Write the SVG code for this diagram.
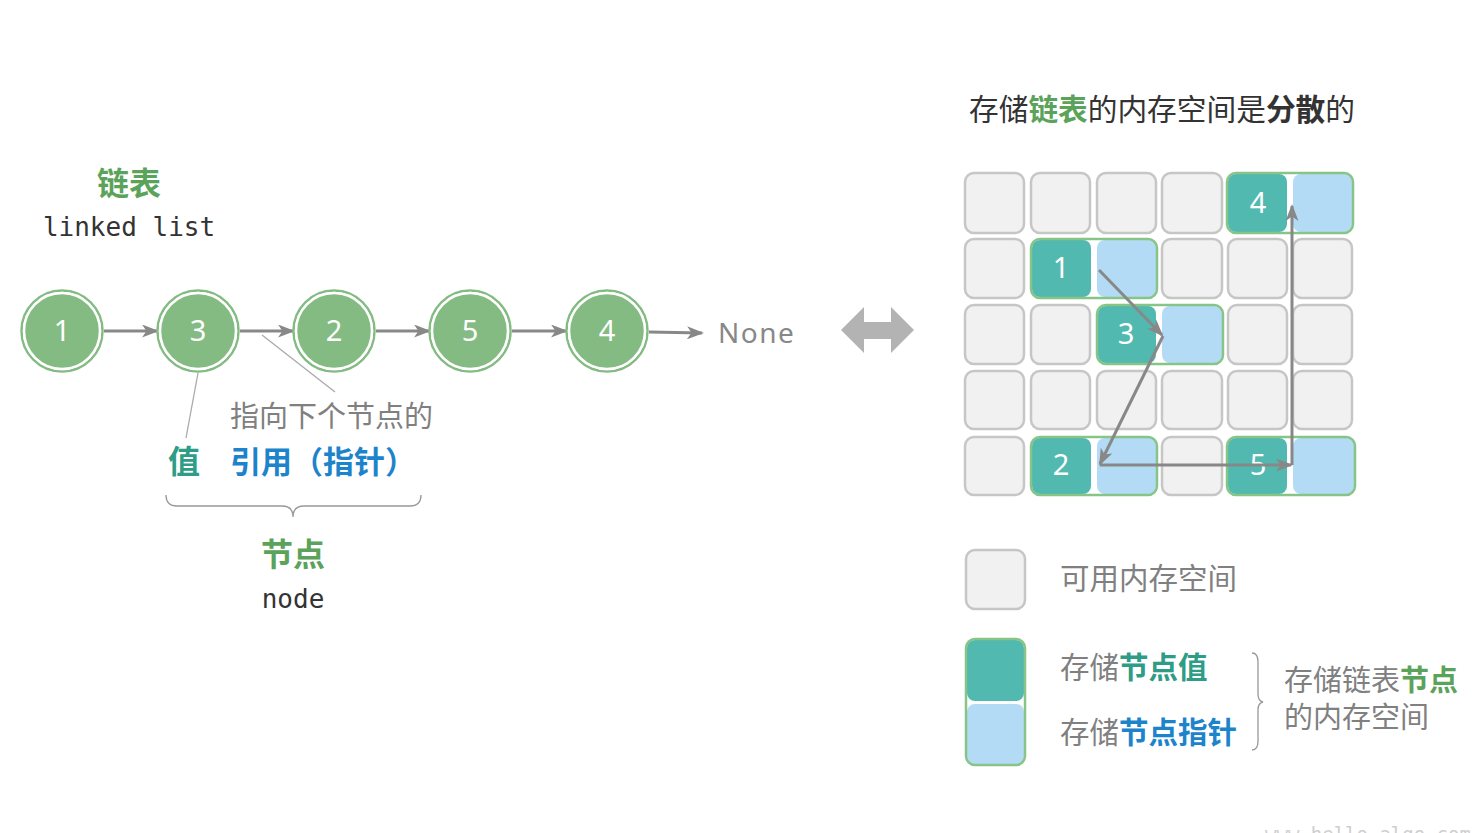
<svg xmlns="http://www.w3.org/2000/svg" width="1480" height="833" viewBox="0 0 1480 833">
<style>
.cjk{font-family:"Noto Sans CJK SC","Noto Sans",sans-serif}
.mono{font-family:"DejaVu Sans Mono","Liberation Mono",monospace}
.num{font-family:"Noto Sans","DejaVu Sans",sans-serif;fill:#fff;font-size:29px;text-anchor:middle}
.cell{fill:#f1f1f1;stroke:#c6c6c6;stroke-width:2.5}
.teal{fill:#52b9b0}
.blue{fill:#b4dbf6}
.nodeb{fill:none;stroke:#86c487;stroke-width:2.5}
.circ{fill:#83bb82;stroke:#fff;stroke-width:2.5}
.ring{fill:none;stroke:#83bb82;stroke-width:2.5}
.conn{stroke:#888;stroke-width:3;fill:none;marker-end:url(#ah)}
.thin{stroke:#aaa;stroke-width:1.3;fill:none}
.gray{fill:#808080}
.green{fill:#5ba35a;font-weight:bold}
.tealtxt{fill:#2e9c86;font-weight:bold}
.bluetxt{fill:#1d84cb;font-weight:bold}
</style>
<defs>
<marker id="ah" markerWidth="17" markerHeight="13" refX="15" refY="6.5" orient="auto" markerUnits="userSpaceOnUse" viewBox="0 0 17 13">
<path d="M0,0 L17,6.5 L0,13 L4.5,6.5 z" fill="#888"/>
</marker>
</defs>
<rect width="1480" height="833" fill="#fff"/>

<g id="title-left">
<text x="129" y="195" class="cjk green" font-size="32" text-anchor="middle">链表</text>
<text x="129" y="236" class="mono" font-size="26" fill="#333" text-anchor="middle">linked list</text>
</g>

<g id="connectors">
<line x1="104" y1="331" x2="157" y2="331" class="conn"/>
<line x1="240" y1="331" x2="293" y2="331" class="conn"/>
<line x1="376" y1="331" x2="429" y2="331" class="conn"/>
<line x1="512" y1="331" x2="566" y2="331" class="conn"/>
<line x1="649" y1="332" x2="702" y2="333" class="conn"/>
<line x1="198" y1="373" x2="186" y2="438" class="thin"/>
<line x1="262" y1="335" x2="335" y2="392" class="thin"/>
</g>

<g id="n1"><circle cx="62" cy="331" r="40.5" class="ring"/><circle cx="62" cy="331" r="38" class="circ"/><text x="62" y="341" class="num">1</text></g>
<g id="n3"><circle cx="198" cy="331" r="40.5" class="ring"/><circle cx="198" cy="331" r="38" class="circ"/><text x="198" y="341" class="num">3</text></g>
<g id="n2"><circle cx="334" cy="331" r="40.5" class="ring"/><circle cx="334" cy="331" r="38" class="circ"/><text x="334" y="341" class="num">2</text></g>
<g id="n5"><circle cx="470" cy="331" r="40.5" class="ring"/><circle cx="470" cy="331" r="38" class="circ"/><text x="470" y="341" class="num">5</text></g>
<g id="n4"><circle cx="607" cy="331" r="40.5" class="ring"/><circle cx="607" cy="331" r="38" class="circ"/><text x="607" y="341" class="num">4</text></g>
<g id="none"><text x="718" y="343" font-family="Noto Sans,DejaVu Sans,sans-serif" font-size="28" fill="#888" letter-spacing="1.5">None</text></g>

<g id="annotation">
<text x="230" y="427" class="cjk gray" font-size="29" fill="#808080">指向下个节点的</text>
<text x="168" y="473" class="cjk tealtxt" font-size="32">值</text>
<text x="230" y="473" class="cjk bluetxt" font-size="31">引用（指针）</text>
<path d="M166,495 Q166,506 177,506 L282,506 Q293,506 293,517 Q293,506 304,506 L410,506 Q421,506 421,495" stroke="#999" stroke-width="1.3" fill="none"/>
<text x="293" y="566" class="cjk green" font-size="32" text-anchor="middle">节点</text>
<text x="293" y="608" class="mono" font-size="26" fill="#333" text-anchor="middle">node</text>
</g>

<g id="double-arrow"><path d="M841,330 L864,307 L864,322 L891,322 L891,307 L914,330 L891,353 L891,339 L864,339 L864,353 z" fill="#b3b3b3"/></g>

<g id="title-right"><text x="969" y="120" class="cjk" font-size="29.7" fill="#333">存储<tspan class="green" fill="#5ba35a">链表</tspan>的内存空间是<tspan font-weight="bold">分散</tspan>的</text></g>

<g id="grid">
<rect x="965" y="173" width="59" height="60" rx="9" class="cell"/>
<rect x="1031" y="173" width="59" height="60" rx="9" class="cell"/>
<rect x="1097" y="173" width="59" height="60" rx="9" class="cell"/>
<rect x="1162" y="173" width="60" height="60" rx="9" class="cell"/>
<rect x="965" y="239" width="59" height="59" rx="9" class="cell"/>
<rect x="1162" y="239" width="60" height="59" rx="9" class="cell"/>
<rect x="1228" y="239" width="59" height="59" rx="9" class="cell"/>
<rect x="1293" y="239" width="59" height="59" rx="9" class="cell"/>
<rect x="965" y="305" width="59" height="59" rx="9" class="cell"/>
<rect x="1031" y="305" width="59" height="59" rx="9" class="cell"/>
<rect x="1228" y="305" width="59" height="59" rx="9" class="cell"/>
<rect x="1293" y="305" width="59" height="59" rx="9" class="cell"/>
<rect x="965" y="371" width="59" height="58" rx="9" class="cell"/>
<rect x="1031" y="371" width="59" height="58" rx="9" class="cell"/>
<rect x="1097" y="371" width="59" height="58" rx="9" class="cell"/>
<rect x="1162" y="371" width="60" height="58" rx="9" class="cell"/>
<rect x="1228" y="371" width="59" height="58" rx="9" class="cell"/>
<rect x="1293" y="371" width="59" height="58" rx="9" class="cell"/>
<rect x="965" y="437" width="59" height="58" rx="9" class="cell"/>
<rect x="1162" y="437" width="60" height="58" rx="9" class="cell"/>
</g>

<g id="m4"><rect x="1228" y="174" width="59" height="58" rx="8" class="teal"/><rect x="1293" y="174" width="59" height="58" rx="8" class="blue"/><rect x="1227" y="173" width="126" height="60" rx="9" class="nodeb"/><text x="1258" y="213" class="num">4</text></g>
<g id="m1"><rect x="1032" y="240" width="59" height="57" rx="8" class="teal"/><rect x="1097" y="240" width="59" height="57" rx="8" class="blue"/><rect x="1031" y="239" width="126" height="59" rx="9" class="nodeb"/><text x="1061" y="278" class="num">1</text></g>
<g id="m3"><rect x="1098" y="306" width="58" height="57" rx="8" class="teal"/><rect x="1162" y="306" width="60" height="57" rx="8" class="blue"/><rect x="1097" y="305" width="126" height="59" rx="9" class="nodeb"/><text x="1126" y="344" class="num">3</text></g>
<g id="m2"><rect x="1032" y="438" width="59" height="56" rx="8" class="teal"/><rect x="1097" y="438" width="59" height="56" rx="8" class="blue"/><rect x="1031" y="437" width="126" height="58" rx="9" class="nodeb"/><text x="1061" y="475" class="num">2</text></g>
<g id="m5"><rect x="1228" y="438" width="59" height="56" rx="8" class="teal"/><rect x="1293" y="438" width="61" height="56" rx="8" class="blue"/><rect x="1227" y="437" width="128" height="58" rx="9" class="nodeb"/><text x="1258" y="475" class="num">5</text></g>

<g id="memory-connectors">
<path d="M1099,270 L1162,335" class="conn"/>
<path d="M1163,336 L1100,464" class="conn"/>
<path d="M1100,465 L1291,465" class="conn"/>
<path d="M1292,465 L1292,206" class="conn"/>
</g>

<g id="legend">
<rect x="966" y="550" width="59" height="59" rx="9" class="cell"/>
<text x="1060" y="589" class="cjk" font-size="29.5" fill="#808080">可用内存空间</text>
<rect x="967" y="640" width="57" height="61" rx="8" class="teal"/>
<rect x="967" y="704" width="57" height="60" rx="8" class="blue"/>
<rect x="966" y="639" width="59" height="126" rx="9" class="nodeb"/>
<text x="1060" y="678" class="cjk" font-size="29.5" fill="#808080">存储<tspan class="tealtxt">节点值</tspan></text>
<text x="1060" y="743" class="cjk" font-size="29.5" fill="#808080">存储<tspan class="bluetxt">节点指针</tspan></text>
<path d="M1252,653 Q1258,653 1258,662 L1258,694 Q1258,701 1263,702 Q1258,703 1258,710 L1258,741 Q1258,750 1252,750" stroke="#999" stroke-width="1.3" fill="none"/>
<text x="1284" y="691" class="cjk" font-size="29" fill="#808080">存储链表<tspan class="green">节点</tspan></text>
<text x="1284" y="728" class="cjk" font-size="29" fill="#808080">的内存空间</text>
</g>

<g id="watermark"><text x="1265" y="841" class="mono" font-size="19" fill="#cfcfcf">www.hello-algo.com</text></g>
</svg>
